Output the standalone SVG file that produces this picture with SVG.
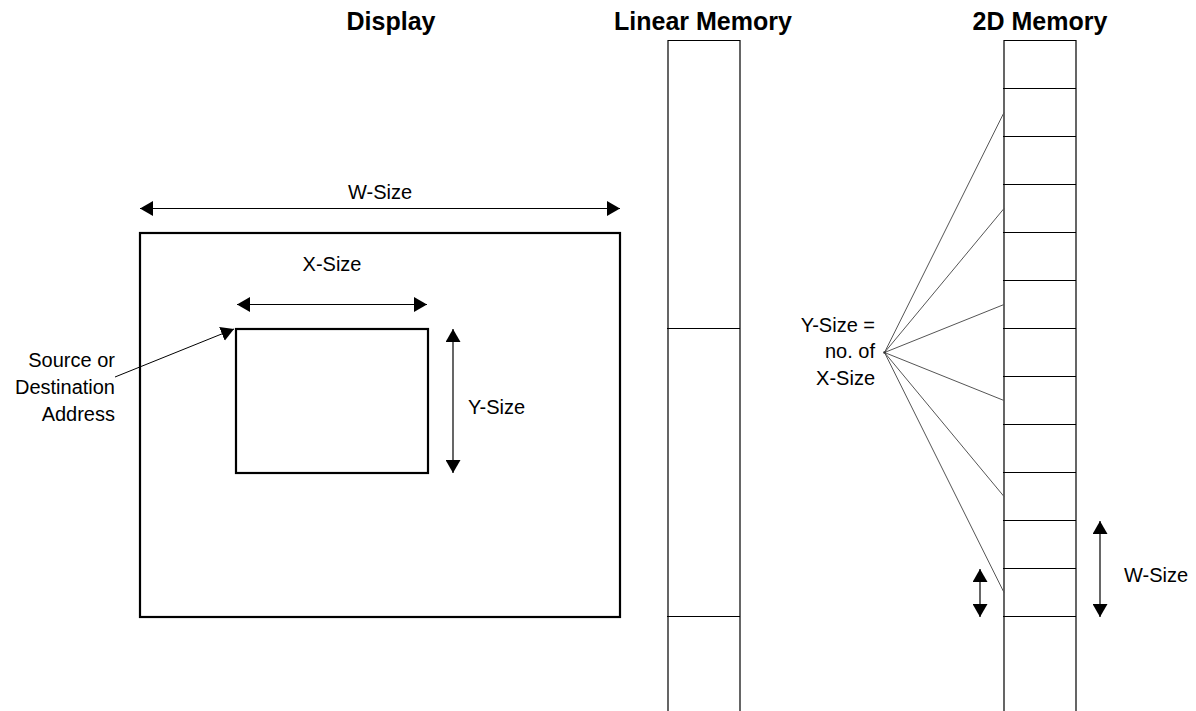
<svg xmlns="http://www.w3.org/2000/svg" width="1196" height="711" viewBox="0 0 1196 711">
  <style>
    .title { font-family: "Liberation Sans", Arial, Helvetica, sans-serif; font-weight: bold; font-size: 25px; fill: #000; text-anchor: middle; }
    .lbl { font-family: "Liberation Sans", Arial, Helvetica, sans-serif; font-size: 20px; fill: #000; }
    .box { fill: #fff; stroke: #000; stroke-width: 2.2; }
    .mem { fill: none; stroke: #000; stroke-width: 1.2; }
    .arr { fill: none; stroke: #000; stroke-width: 1.2; marker-start: url(#head); marker-end: url(#head); }
    .arr1 { fill: none; stroke: #000; stroke-width: 1; marker-end: url(#head); }
    .fan { fill: none; stroke: #555; stroke-width: 1; }
  </style>
  <defs>
    <marker id="head" viewBox="0 0 13 15" refX="13" refY="7.5" markerWidth="13" markerHeight="15" markerUnits="userSpaceOnUse" orient="auto-start-reverse">
      <path d="M0,0 L13,7.5 L0,15 Z" fill="#000"/>
    </marker>
  </defs>
  <rect width="1196" height="711" fill="#fff"/>

  <g id="titles">
    <text class="title" x="391" y="29.5">Display</text>
    <text class="title" x="703" y="29.5">Linear Memory</text>
    <text class="title" x="1040" y="29.5">2D Memory</text>
  </g>

  <g id="display">
    <rect class="box" x="140" y="233" width="480" height="384"/>
  </g>
  <g id="region">
    <rect class="box" x="236" y="329" width="192" height="144"/>
  </g>

  <g id="linear-memory">
    <path class="mem" d="M668,711 V40.5 H740 V711 M667,328.5 H740 M667,616.5 H740"/>
  </g>

  <g id="memory-2d">
    <path class="mem" d="M1004,711 V40.5 H1076 V711
      M1003,88.5 H1076 M1003,136.5 H1076 M1003,184.5 H1076 M1003,232.5 H1076
      M1003,280.5 H1076 M1003,328.5 H1076 M1003,376.5 H1076 M1003,424.5 H1076
      M1003,472.5 H1076 M1003,520.5 H1076 M1003,568.5 H1076 M1003,616.5 H1076"/>
  </g>

  <g id="labels">
    <text class="lbl" x="380" y="198.5" text-anchor="middle">W-Size</text>
    <text class="lbl" x="332" y="271" text-anchor="middle">X-Size</text>
    <text class="lbl" x="468" y="414">Y-Size</text>
    <text class="lbl" x="115" y="367" text-anchor="end">Source or</text>
    <text class="lbl" x="115" y="394" text-anchor="end">Destination</text>
    <text class="lbl" x="115" y="420.5" text-anchor="end">Address</text>
    <text class="lbl" x="875" y="331.5" text-anchor="end">Y-Size =</text>
    <text class="lbl" x="875" y="358" text-anchor="end">no. of</text>
    <text class="lbl" x="875" y="385" text-anchor="end">X-Size</text>
    <text class="lbl" x="1124" y="582">W-Size</text>
  </g>

  <g id="connectors">
    <line class="arr" x1="140" y1="208.5" x2="620" y2="208.5"/>
    <line class="arr" x1="237" y1="304.5" x2="427" y2="304.5"/>
    <line class="arr" x1="453" y1="329" x2="453" y2="473"/>
    <line class="arr1" x1="115" y1="377" x2="234" y2="329"/>
    <line class="arr" x1="980" y1="569" x2="980" y2="617"/>
    <line class="arr" x1="1100" y1="521" x2="1100" y2="617"/>
    <path class="fan" d="M884.5,352.5 L1004,112.5 M884.5,352.5 L1004,208.5 M884.5,352.5 L1004,304.5 M884.5,352.5 L1004,400.5 M884.5,352.5 L1004,496.5 M884.5,352.5 L1004,592.5"/>
    <circle cx="884.5" cy="352.5" r="1.3" fill="#333"/>
  </g>
</svg>
